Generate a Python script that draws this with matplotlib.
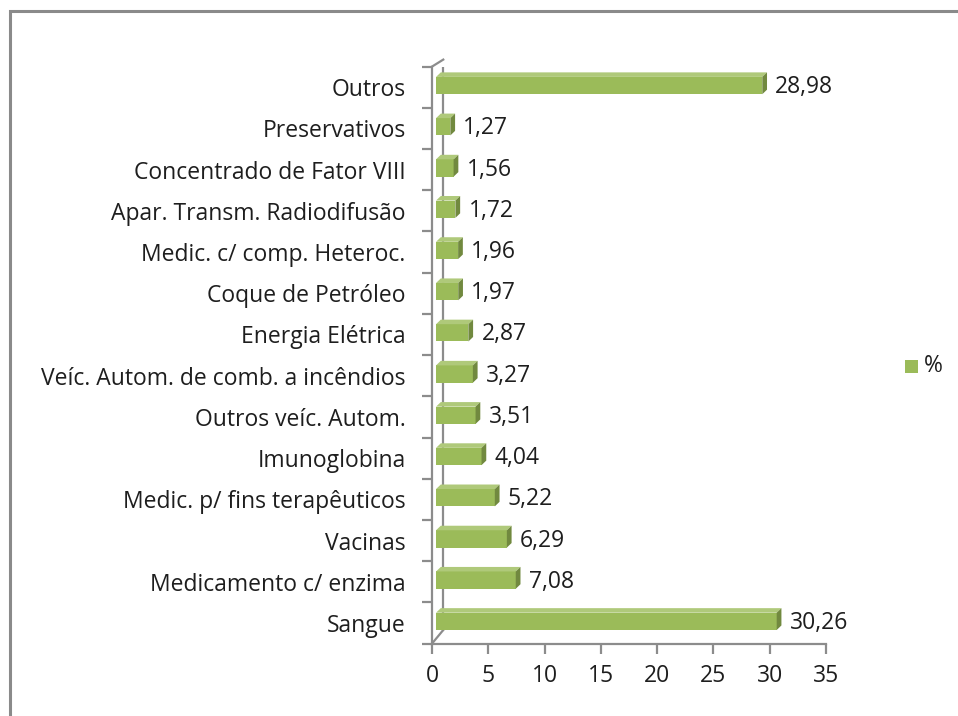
import matplotlib
matplotlib.use('Agg')
import matplotlib.pyplot as plt
from matplotlib.patches import Polygon, Rectangle
from matplotlib.lines import Line2D

categorias = ['Sangue', 'Medicamento c/ enzima', 'Vacinas', 'Medic. p/ fins terapêuticos',
              'Imunoglobina', 'Outros veíc. Autom.', 'Veíc. Autom. de comb. a incêndios',
              'Energia Elétrica', 'Coque de Petróleo', 'Medic. c/ comp. Heteroc.',
              'Apar. Transm. Radiodifusão', 'Concentrado de Fator VIII', 'Preservativos', 'Outros']
valores = [30.26, 7.08, 6.29, 5.22, 4.04, 3.51, 3.27, 2.87, 1.97, 1.96, 1.72, 1.56, 1.27, 28.98]
xticks = [0, 5, 10, 15, 20, 25, 30, 35]

plt.rcParams['font.family'] = ['Open Sans', 'DejaVu Sans']
fs = 16.5
grey = '#8c8c8c'
txt = '#1e1e1e'
front_c, top_c, side_c = '#9BBB59', '#AFC97A', '#71893F'

fig = plt.figure(figsize=(9.58, 7.16), dpi=100)
fig.patches.append(Rectangle((10 / 958, -0.1), 1.2, 1 - 11 / 716 + 0.1, transform=fig.transFigure,
                             fill=False, edgecolor='#8a8a8a', lw=2.2))

ax = fig.add_axes([432 / 958, 1 - 643.6 / 716, 394 / 958, 577 / 716])
n = len(categorias)
ax.set_xlim(0, 35)
ax.set_ylim(-0.5, n - 0.5)

# 3D offsets in data units
x0 = 0.36     # bars sit slightly behind the front axis
dx = 0.42
dy = 0.11
h = 0.42
for i, v in enumerate(valores):
    yb = i - h / 2 + 0.04
    yt = yb + h
    ax.add_patch(Rectangle((x0, yb), v, h, facecolor=front_c, edgecolor='none', zorder=3))
    ax.add_patch(Polygon([(x0, yt), (x0 + v, yt), (x0 + v + dx, yt + dy), (x0 + dx, yt + dy)],
                         closed=True, facecolor=top_c, edgecolor='none', zorder=3))
    ax.add_patch(Polygon([(x0 + v, yb), (x0 + v + dx, yb + dy), (x0 + v + dx, yt + dy), (x0 + v, yt)],
                         closed=True, facecolor=side_c, edgecolor='none', zorder=3))
    ax.annotate(f'{v:.2f}'.replace('.', ','), xy=(x0 + v + dx, i), xytext=(6, 0),
                textcoords='offset points', va='center', ha='left', fontsize=fs, color=txt)

# 3D wall lines
wall_dx = 1.0
wall_dy = 0.33
ax.add_line(Line2D([wall_dx, wall_dx], [-0.5 + wall_dy, n - 0.5 + 0.17], color=grey, lw=1.6, zorder=2))
ax.add_line(Line2D([0, wall_dx], [-0.5, -0.5 + wall_dy], color=grey, lw=1.6, zorder=2))
ax.add_line(Line2D([0, wall_dx], [n - 0.5, n - 0.5 + 0.17], color=grey, lw=1.6, zorder=2, clip_on=False))

for s in ['top', 'right']:
    ax.spines[s].set_visible(False)
for s in ['left', 'bottom']:
    ax.spines[s].set_color(grey)
    ax.spines[s].set_linewidth(1.6)

ax.set_yticks(range(n))
ax.set_yticklabels(categorias, fontsize=fs, color=txt)
ax.tick_params(axis='y', length=0, pad=19)
ax.set_yticks([k - 0.5 for k in range(n + 1)], minor=True)
ax.tick_params(axis='y', which='minor', length=7, width=1.6, color=grey)
ax.set_xticks(xticks)
ax.set_xticklabels([str(t) for t in xticks], fontsize=fs, color=txt)
ax.tick_params(axis='x', length=7, width=1.6, color=grey, pad=8)

fig.patches.append(Rectangle((905 / 958, 1 - 373 / 716), 13 / 958, 13 / 716, transform=fig.transFigure,
                             facecolor=front_c, edgecolor='none'))
fig.text(924 / 958, 1 - 366 / 716, '%', fontsize=fs, va='center', ha='left', color=txt)

fig.savefig('out.png', dpi=100)
